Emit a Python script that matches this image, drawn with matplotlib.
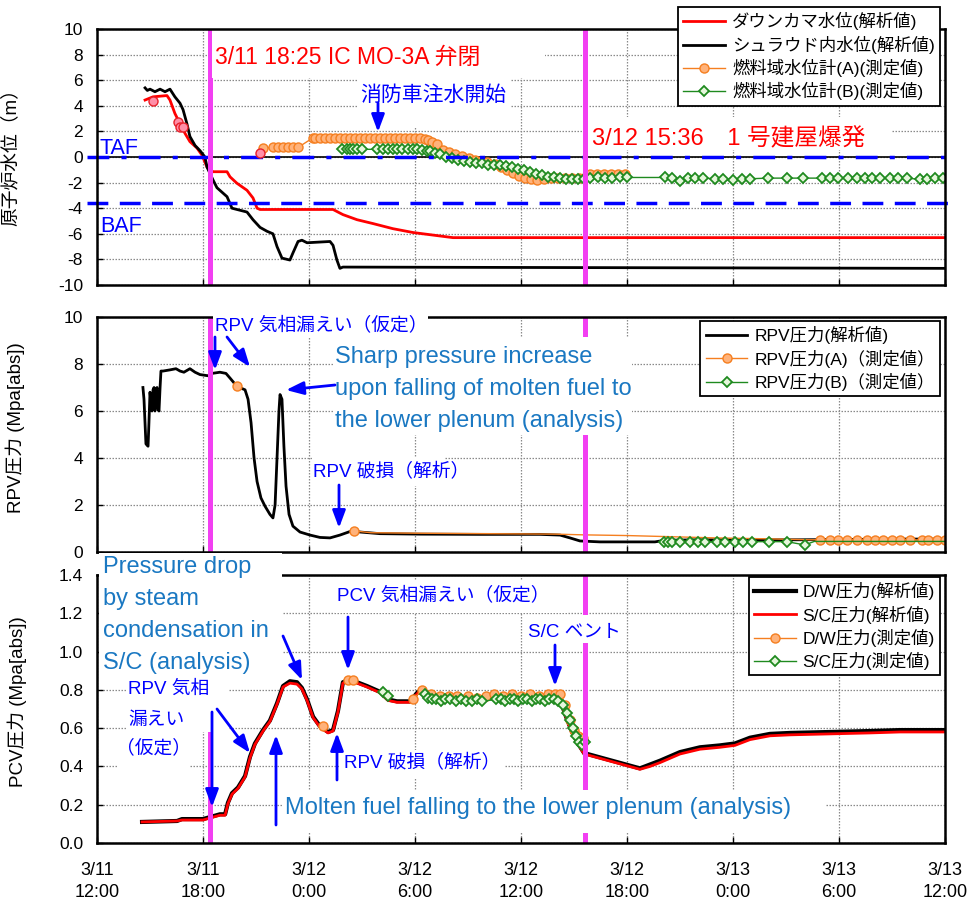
import numpy as np
import matplotlib
matplotlib.use('Agg')
import matplotlib.pyplot as plt
from matplotlib.patches import Rectangle, FancyArrowPatch

plt.rcParams['font.family'] = ['Liberation Sans', 'Noto Sans CJK JP']
plt.rcParams['axes.unicode_minus'] = False
nan = np.nan

# ---------------- data (time = hours after 3/11 12:00) ----------------
x_ticks = [0, 6, 12, 18, 24, 30, 36, 42, 48]
x_labels = ['3/11\n12:00', '3/11\n18:00', '3/12\n0:00', '3/12\n6:00', '3/12\n12:00',
            '3/12\n18:00', '3/13\n0:00', '3/13\n6:00', '3/13\n12:00']
event_times = [6.42, 27.6]          # 3/11 18:25 , 3/12 15:36
TAF = 0.0
BAF = -3.6

# panel 1 : water level (m)
dc_t = [2.72, 3.17, 3.96, 4.13, 4.41, 4.70, 4.98, 5.26, 5.66, 5.94, 6.23, 6.57, 7.36, 7.53,
        7.92, 8.49, 8.83, 9.06, 9.23, 13.36, 13.92, 14.72, 15.62, 16.75, 17.89, 19.02, 20.15, 48.0]
dc_v = [4.45, 4.7, 4.8, 4.45, 3.4, 2.6, 1.85, 1.2, 0.7, 0.15, -0.8, -1.15, -1.15, -1.55,
        -2.05, -2.6, -3.2, -4.0, -4.1, -4.1, -4.5, -4.9, -5.2, -5.6, -5.9, -6.1, -6.3, -6.3]
sh_t = [2.72, 2.85, 3.0, 3.28, 3.57, 3.85, 4.13, 4.41, 4.70, 4.87, 5.09, 5.26, 5.55, 5.83,
        6.11, 6.23, 6.57, 6.79, 7.36, 7.64, 8.49, 8.83, 9.23, 9.62, 9.96, 10.19, 10.47, 10.92,
        11.09, 11.38, 11.60, 11.89, 13.19, 13.36, 13.58, 13.75, 13.92, 48.0]
sh_v = [5.4, 5.2, 5.3, 5.1, 5.3, 5.1, 5.3, 4.7, 4.2, 3.7, 2.6, 1.6, 0.9, 0.5,
        0.0, -0.8, -1.8, -2.4, -3.1, -4.0, -4.3, -4.9, -5.5, -5.8, -6.0, -7.0, -7.9, -8.05,
        -7.5, -6.6, -6.5, -6.7, -6.6, -6.9, -8.05, -8.7, -8.6, -8.7]
early_t = [3.17, 4.58, 4.70, 4.87, 9.23]
early_v = [4.4, 2.75, 2.35, 2.35, 0.35]
fa_t = [9.40, 9.96, 10.25, 10.53, 10.81, 11.09, 11.38, 12.23, 12.34, 12.62, 12.90, 13.19,
        13.47, 13.75, 14.04, 14.32, 14.60, 14.89, 15.17, 15.45, 15.73, 16.02, 16.30, 16.58,
        16.87, 17.15, 17.43, 17.72, 18.00, 18.28, 18.57, 18.74, 18.96, 19.24, 19.58, 19.90,
        20.26, 20.66, 21.07, 21.40, 21.74, 22.08, 22.53, 22.87, 23.21, 23.55, 23.89, 24.23,
        24.57, 24.91, 25.30, 25.70, 26.10, 26.50, 26.90, 27.30, 27.55, 27.90, 28.30, 28.70,
        29.10, 29.50, 29.90]
fa_v = [0.70, 0.75, 0.75, 0.75, 0.75, 0.75, 0.75, 1.50, 1.52, 1.52, 1.52, 1.52,
        1.52, 1.52, 1.52, 1.52, 1.52, 1.52, 1.52, 1.52, 1.52, 1.52, 1.52, 1.52,
        1.52, 1.52, 1.52, 1.52, 1.52, 1.50, 1.40, 1.30, 1.15, 1.0, 0.55, 0.41,
        0.25, 0.08, -0.05, -0.23, -0.30, -0.37, -0.55, -0.75, -1.0, -1.27, -1.45, -1.67,
        -1.75, -1.8, -1.7, -1.67, -1.67, -1.67, -1.67, -1.67, -1.67, -1.35, -1.35, -1.3,
        -1.35, -1.3, -1.3]
fb_t = [13.87, 14.15, 14.32, 14.49, 14.72, 15.0, 15.85, 16.19, 16.47, 16.75, 16.98, 17.26,
        17.60, 17.89, 18.11, 18.40, 18.68, 18.85, 19.13, 19.41, 19.75, 20.09, 20.43, 20.77,
        21.11, 21.45, 21.79, 22.13, 22.47, 22.81, 23.15, 23.49, 23.83, 24.17, 24.51, 24.85,
        25.19, 25.53, 25.87, 26.21, 26.55, 26.89, 27.23, 27.57, 27.90, 28.36, 28.75, 29.15,
        29.60, 30.0, 32.15, 32.55, 33.0, 33.45, 33.85, 34.30, 34.98, 35.43, 36.0, 36.51,
        36.96, 37.98, 39.06, 39.96, 41.04, 41.49, 41.94, 42.51, 43.02, 43.47, 43.87, 44.32,
        44.89, 45.34, 45.85, 46.58, 46.98, 47.43, 47.89]
fb_v = [0.60, 0.60, 0.60, 0.60, 0.60, 0.60, 0.60, 0.60, 0.60, 0.60, 0.60, 0.60,
        0.60, 0.60, 0.60, 0.55, 0.50, 0.45, 0.30, 0.20, 0.03, -0.10, -0.23, -0.30,
        -0.37, -0.45, -0.50, -0.60, -0.63, -0.63, -0.70, -0.75, -0.90, -1.0, -1.15, -1.3,
        -1.4, -1.53, -1.6, -1.67, -1.7, -1.7, -1.7, -1.7, -1.65, -1.6, -1.65, -1.65,
        -1.6, -1.6, -1.6, -1.65, -1.85, -1.65, -1.65, -1.65, -1.7, -1.75, -1.8, -1.7,
        -1.7, -1.65, -1.65, -1.65, -1.65, -1.65, -1.65, -1.65, -1.65, -1.65, -1.65, -1.65,
        -1.65, -1.65, -1.65, -1.75, -1.7, -1.65, -1.65]

# panel 2 : RPV pressure (MPa abs)
rpv_t = [2.60, 2.66, 2.77, 2.89, 2.94, 3.00, 3.11, 3.17, 3.23, 3.28, 3.34, 3.40, 3.45, 3.51,
         3.57, 3.62, 3.74, 4.13, 4.47, 4.70, 4.92, 5.26, 5.55, 5.83, 6.28, 6.51, 6.96, 7.30,
         7.53, 7.92, 8.38, 8.55, 8.72, 8.89, 9.06, 9.28, 9.51, 9.79, 9.96, 10.08, 10.19, 10.30,
         10.36, 10.47, 10.58, 10.70, 10.87, 11.09, 11.49, 12.06, 12.62, 13.19, 13.75, 14.43,
         14.89, 16.02, 18.28, 21.68, 25.07, 26.21, 26.77, 27.34, 28.47, 31.58, 32.15, 34.13,
         39.79, 45.45, 48.0]
rpv_v = [7.0, 6.5, 4.6, 4.5, 5.5, 6.8, 6.0, 6.9, 7.0, 6.0, 6.9, 7.0, 6.1, 6.0,
         7.0, 7.7, 7.7, 7.75, 7.8, 7.7, 7.65, 7.8, 7.65, 7.55, 7.5, 7.6, 7.65, 7.6,
         7.4, 7.05, 6.9, 6.5, 5.5, 4.0, 3.0, 2.3, 1.95, 1.6, 1.45, 2.0, 4.0, 6.0,
         6.7, 6.5, 4.5, 2.8, 1.6, 1.1, 0.85, 0.72, 0.62, 0.60, 0.72, 0.90,
         0.85, 0.78, 0.76, 0.75, 0.75, 0.72, 0.60, 0.47, 0.43, 0.43, 0.50, 0.52,
         0.52, 0.55, 0.55]
rpva_t = [7.92, nan, 14.55, 15.5, 18.0, 22.0, 26.0, 27.5, 30.0, 32.0, 35.0, 38.0, 40.3,
          40.92, 41.49, 41.94, 42.45, 43.02, 43.58, 44.04, 44.49, 45.0, 45.45, 46.02, 46.70,
          47.04, 47.55, 48.0]
rpva_v = [7.05, nan, 0.90, 0.82, 0.80, 0.78, 0.76, 0.73, 0.70, 0.66, 0.60, 0.56, 0.52,
          0.52, 0.52, 0.51, 0.52, 0.52, 0.51, 0.52, 0.52, 0.51, 0.52, 0.52, 0.51,
          0.52, 0.52, 0.52]
rpvb_t = [32.09, 32.32, 32.55, 33.0, 33.56, 34.02, 34.41, 35.09, 35.54, 36.11, 36.56, 37.07,
          38.03, 39.05, 40.07, 40.6, 48.0]
rpvb_v = [0.44, 0.44, 0.44, 0.44, 0.44, 0.44, 0.44, 0.44, 0.44, 0.44, 0.44, 0.44,
          0.44, 0.44, 0.30, 0.45, 0.45]

# panel 3 : PCV pressure (MPa abs)
pcv_t = [2.55, 4.53, 4.81, 6.0, 6.57, 6.96, 7.25, 7.41, 7.64, 7.98, 8.38, 8.66, 8.94, 9.40,
         9.79, 10.19, 10.53, 10.92, 11.32, 11.60, 11.89, 12.23, 12.62, 13.08, 13.36, 13.64,
         13.92, 14.21, 14.72, 15.28, 16.02, 16.47, 16.98, 17.72, 18.17, 18.85, 21.68, 25.07,
         26.21, 26.55, 26.89, 27.23, 27.57, 30.73, 31.30, 31.87, 33.0, 34.13, 35.26, 36.11,
         36.96, 38.09, 39.23, 41.49, 43.75, 45.45, 48.0]
dw_v = [0.11, 0.115, 0.125, 0.125, 0.14, 0.15, 0.15, 0.21, 0.26, 0.29, 0.35, 0.45, 0.52, 0.59,
        0.64, 0.73, 0.82, 0.845, 0.84, 0.81, 0.75, 0.66, 0.61, 0.58, 0.59, 0.69,
        0.84, 0.85, 0.84, 0.82, 0.79, 0.75, 0.74, 0.74, 0.79, 0.77, 0.76, 0.76,
        0.75, 0.66, 0.58, 0.52, 0.47, 0.39, 0.41, 0.43, 0.475, 0.50, 0.51, 0.52,
        0.55, 0.57, 0.575, 0.58, 0.585, 0.59, 0.59]
sc_v = [0.11, 0.115, 0.12, 0.12, 0.135, 0.145, 0.145, 0.205, 0.255, 0.285, 0.345, 0.445, 0.515, 0.585,
        0.635, 0.725, 0.815, 0.835, 0.83, 0.805, 0.745, 0.655, 0.605, 0.575, 0.585, 0.685,
        0.835, 0.845, 0.835, 0.815, 0.785, 0.745, 0.735, 0.735, 0.785, 0.765, 0.755, 0.755,
        0.745, 0.655, 0.575, 0.515, 0.465, 0.385, 0.40, 0.42, 0.465, 0.49, 0.50, 0.51,
        0.54, 0.56, 0.565, 0.57, 0.575, 0.58, 0.58]
dwm_t = [12.79, nan, 14.21, 14.49, nan, 17.89, 18.40, 18.90, 19.40, 19.90, 20.40, 21.00, 21.50,
         22.00, 22.50, 23.00, 23.50, 24.00, 24.50, 25.00, 25.50, 25.90, 26.20, 26.50, 26.75,
         27.00, 27.25, 27.50]
dwm_v = [0.61, nan, 0.85, 0.85, nan, 0.75, 0.80, 0.78, 0.77, 0.77, 0.77, 0.77, 0.76,
         0.77, 0.78, 0.77, 0.78, 0.77, 0.78, 0.77, 0.78, 0.78, 0.78, 0.72, 0.64,
         0.59, 0.56, 0.55]
scm_t = [16.19, 16.47, nan, 18.57, 18.75, 18.95, 19.20, 19.45, 19.70, 20.00, 20.30, 20.60,
         20.90, 21.20, 21.50, 21.80, 22.60, 22.85, 23.10, 23.35, 23.60, 23.85, 24.10, 24.35,
         24.60, 24.85, 25.10, 25.35, 25.60, 25.85, 26.10, 26.40, 26.60, 26.75, 26.95, 27.10,
         27.30, 27.45, 27.60]
scm_v = [0.79, 0.77, nan, 0.78, 0.76, 0.75, 0.75, 0.74, 0.75, 0.75, 0.74, 0.75,
         0.74, 0.74, 0.75, 0.74, 0.75, 0.75, 0.74, 0.75, 0.75, 0.74, 0.75, 0.75,
         0.74, 0.75, 0.75, 0.74, 0.75, 0.75, 0.74, 0.72, 0.68, 0.64, 0.60, 0.56,
         0.53, 0.51, 0.53]

# ---------------- figure ----------------
W, H = 973, 909
fig = plt.figure(figsize=(W / 100, H / 100), dpi=100)
fig.patch.set_facecolor('white')


def F(x, y):
    return (x / W, 1 - y / H)


def add_axes(top, bottom):
    ax = fig.add_axes([97 / W, 1 - bottom / H, 848 / W, (bottom - top) / H])
    return ax


ax1 = add_axes(29, 285)
ax2 = add_axes(317, 552)
ax3 = add_axes(575, 843)

RED = '#ff0000'
ORANGE = '#f57f20'
ORANGE_F = '#ffb27a'
GREEN = '#1f8a1f'
GREEN_F = '#e6f7dc'
BLUE = '#0000ff'
STEEL = '#1a78c2'
PINK = '#f23ff2'

for ax in (ax1, ax2, ax3):
    ax.set_xlim(0, 48)
    ax.set_xticks(x_ticks)
    ax.set_axisbelow(True)
    ax.grid(True, color='#8a8a8a', linestyle=(0, (1.2, 1.2)), linewidth=0.9)
    for s in ax.spines.values():
        s.set_linewidth(1.8)
        s.set_color('black')
    ax.tick_params(direction='in', length=4, width=1, labelsize=12.5, pad=10)
    for t in event_times:
        ax.axvline(t, color=PINK, lw=3.6, zorder=2.1)

ax1.set_xticklabels([])
ax2.set_xticklabels([])
ax3.set_xticklabels(x_labels, fontsize=13, linespacing=1.35)
ax3.tick_params(axis='x', pad=14)

LEG = dict(loc='upper right', bbox_transform=fig.transFigure, fontsize=12.5,
           fancybox=False, framealpha=1, edgecolor='black', borderaxespad=0,
           handlelength=2.4, handletextpad=0.4, labelspacing=0.3, borderpad=0.3)

# ---- panel 1
ax1.set_ylim(-10, 10)
ax1.set_yticks(range(-10, 11, 2))
ax1.axhline(TAF, color='black', lw=1.2, zorder=1.5)
ax1.axhline(TAF, xmin=-0.012, xmax=1.012, color=BLUE, lw=2.5, dashes=(6.3, 3.5, 1.45, 3.5),
            clip_on=False, zorder=2.05)
ax1.axhline(BAF, xmin=-0.012, xmax=1.012, color=BLUE, lw=2.5, dashes=(6.0, 3.3),
            clip_on=False, zorder=2.05)
l_dc, = ax1.plot(dc_t, dc_v, color=RED, lw=2.0, label='ダウンカマ水位(解析値)')
l_sh, = ax1.plot(sh_t, sh_v, color='black', lw=2.0, label='シュラウド内水位(解析値)')
ax1.plot(early_t, early_v, 'o', ms=6.5, mfc='#ff8fa8', mec='#e8202a', mew=1.0, zorder=2.2)
l_fa, = ax1.plot(fa_t, fa_v, color=ORANGE, lw=1.0, marker='o', ms=6.5, mfc=ORANGE_F, mec=ORANGE,
                 mew=1.0, label='燃料域水位計(A)(測定値)')
l_fb, = ax1.plot(fb_t, fb_v, color=GREEN, lw=1.0, marker='D', ms=5.5, mfc=GREEN_F, mec=GREEN,
                 mew=1.3, label='燃料域水位計(B)(測定値)')
ax1.set_ylabel('原子炉水位（m）', fontsize=13.5)
ax1.yaxis.set_label_coords(-0.091, 0.516)
leg1 = ax1.legend(handles=[l_dc, l_sh, l_fa, l_fb], bbox_to_anchor=F(940, 7), **LEG)
leg1.get_frame().set_linewidth(1.3)

# ---- panel 2
ax2.set_ylim(0, 10)
ax2.set_yticks(range(0, 11, 2))
l_rpv, = ax2.plot(rpv_t, rpv_v, color='black', lw=2.0, label='RPV圧力(解析値)')
rpva_marks = [0, 2] + list(range(13, len(rpva_t)))
l_rpva, = ax2.plot(rpva_t, rpva_v, color=ORANGE, lw=1.0, marker='o', ms=6.5, mfc=ORANGE_F,
                   mec=ORANGE, mew=1.0, markevery=rpva_marks, label='RPV圧力(A)（測定値）')
l_rpvb, = ax2.plot(rpvb_t, rpvb_v, color=GREEN, lw=1.0, marker='D', ms=5.5, mfc=GREEN_F,
                   mec=GREEN, mew=1.3, markevery=list(range(15)), label='RPV圧力(B)（測定値）')
ax2.set_ylabel('RPV圧力 (Mpa[abs])', fontsize=13.5)
ax2.yaxis.set_label_coords(-0.085, 0.53)
leg2 = ax2.legend(handles=[l_rpv, l_rpva, l_rpvb], bbox_to_anchor=F(940, 321), **LEG)
leg2.get_frame().set_linewidth(1.3)

# ---- panel 3
ax3.set_ylim(0, 1.4)
ax3.set_yticks(np.arange(0, 1.41, 0.2))
ax3.set_yticklabels([f'{v:.1f}' for v in np.arange(0, 1.41, 0.2)])
l_dw, = ax3.plot(pcv_t, dw_v, color='black', lw=3.0, label='D/W圧力(解析値)')
l_sc, = ax3.plot(pcv_t, sc_v, color=RED, lw=2.0, label='S/C圧力(解析値)')
l_dwm, = ax3.plot(dwm_t, dwm_v, color=ORANGE, lw=1.0, marker='o', ms=6.5, mfc=ORANGE_F,
                  mec=ORANGE, mew=1.0, label='D/W圧力(測定値)')
l_scm, = ax3.plot(scm_t, scm_v, color=GREEN, lw=1.0, marker='D', ms=5.5, mfc=GREEN_F,
                  mec=GREEN, mew=1.3, label='S/C圧力(測定値)')
ax3.set_ylabel('PCV圧力 (Mpa[abs])', fontsize=13.5)
ax3.yaxis.set_label_coords(-0.083, 0.526)
leg3 = ax3.legend(handles=[l_dw, l_sc, l_dwm, l_scm], bbox_to_anchor=F(940, 577), **LEG)
leg3.get_frame().set_linewidth(1.3)


# ---------------- annotation helpers (pixel layout) ----------------
def box(ax, x0, y0, x1, y1, z):
    ax.add_patch(Rectangle(F(x0, y1), (x1 - x0) / W, (y1 - y0) / H, transform=fig.transFigure,
                           facecolor='white', edgecolor='none', zorder=z, clip_on=False))


def label(x, y, s, color, size):
    fig.text(*F(x, y), s, color=color, fontsize=size, ha='left', va='center', zorder=5)


def arrow(x0, y0, x1, y1):
    fig.add_artist(FancyArrowPatch(F(x0, y0), F(x1, y1), transform=fig.transFigure,
                                   arrowstyle='-|>,head_length=0.75,head_width=0.28',
                                   mutation_scale=14, color=BLUE, lw=2.0,
                                   shrinkA=0, shrinkB=0, zorder=6))


# panel 1
box(ax1, 212, 30, 545, 78, 2.2)
label(215, 57, '3/11 18:25 IC MO-3A 弁閉', RED, 16.5)
box(ax1, 357, 78, 510, 128, 2.2)
label(360, 95, '消防車注水開始', BLUE, 15)
arrow(378, 103, 378, 132)
box(ax1, 588, 117, 892, 150, 2.2)
label(592, 139, '3/12 15:36　1 号建屋爆発', RED, 17)
label(100, 148, 'TAF', BLUE, 15.5)
label(100, 226, 'BAF', BLUE, 15.5)

# panel 2
box(ax2, 213, 308, 428, 337, 3)
label(215, 325, 'RPV 気相漏えい（仮定）', BLUE, 13.5)
arrow(215, 337, 215, 370)
arrow(227, 337, 250, 367)
box(ax2, 333, 337, 632, 435, 2.3)
for yy, s in zip([357, 389, 421], ['Sharp pressure increase', 'upon falling of molten fuel to',
                                    'the lower plenum (analysis)']):
    label(335, yy, s, STEEL, 17)
arrow(335, 385, 286, 390)
box(ax2, 312, 457, 445, 486, 2.2)
label(313, 472, 'RPV 破損（解析）', BLUE, 13.5)
arrow(339, 485, 339, 528)

# panel 3
box(ax3, 99, 553, 282, 676, 3)
for yy, s in zip([567, 599, 631, 663], ['Pressure drop', 'by steam', 'condensation in',
                                         'S/C (analysis)']):
    label(103, yy, s, STEEL, 17)
arrow(283, 636, 302, 680)
box(ax3, 335, 580, 568, 613, 2.2)
label(337, 595, 'PCV 気相漏えい（仮定）', BLUE, 13.5)
arrow(348, 617, 348, 670)
box(ax3, 127, 676, 228, 732, 2.2)
box(ax3, 118, 732, 190, 768, 2.2)
label(128, 689, 'RPV 気相', BLUE, 13.5)
label(128, 720, '漏えい', BLUE, 13.5)
label(116, 748, '（仮定）', BLUE, 13.5)
arrow(212, 712, 212, 807)
arrow(217, 709, 250, 753)
arrow(276, 825, 276, 735)
arrow(337, 780, 337, 733)
box(ax3, 340, 750, 505, 778, 2.2)
label(344, 763, 'RPV 破損（解析）', BLUE, 13.5)
box(ax3, 524, 615, 625, 643, 2.3)
label(528, 632, 'S/C ベント', BLUE, 13.5)
arrow(555, 645, 555, 686)
box(ax3, 283, 790, 825, 833, 2.3)
label(285, 808, 'Molten fuel falling to the lower plenum (analysis)', STEEL, 17)

fig.savefig('out.png', dpi=100)
